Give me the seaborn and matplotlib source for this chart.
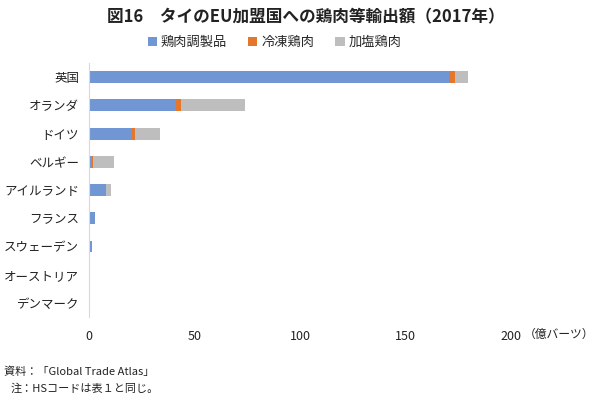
import matplotlib
matplotlib.use("Agg")
import matplotlib.pyplot as plt
import seaborn as sns
import pandas as pd
import numpy as np
from matplotlib.patches import Patch

countries = ["英国", "オランダ", "ドイツ", "ベルギー", "アイルランド", "フランス", "スウェーデン", "オーストリア", "デンマーク"]
prepared = [170.6, 41.4, 20.5, 1.3, 7.9, 2.8, 1.6, 0.0, 0.0]   # 鶏肉調製品
frozen = [2.8, 2.2, 1.3, 0.6, 0.2, 0.0, 0.0, 0.0, 0.0]        # 冷凍鶏肉
salted = [6.0, 30.2, 11.8, 10.0, 2.5, 0.0, 0.0, 0.0, 0.0]      # 加塩鶏肉
series_names = ["鶏肉調製品", "冷凍鶏肉", "加塩鶏肉"]
colors = ["#7096D4", "#E3772B", "#BEBEBE"]
xticks = [0, 50, 100, 150, 200]

sns.set_theme(style="white")
plt.rcParams["font.family"] = ["Noto Sans CJK JP", "DejaVu Sans"]

df = pd.DataFrame({"country": countries, "p": prepared, "f": frozen, "s": salted})
df["c1"] = df["p"]
df["c2"] = df["p"] + df["f"]
df["c3"] = df["p"] + df["f"] + df["s"]

fig = plt.figure(figsize=(5.97, 3.98), dpi=100)
ax = fig.add_axes([0.149, 0.2035, 0.707, 0.638])

for col, c in [("c3", colors[2]), ("c2", colors[1]), ("c1", colors[0])]:
    sns.barplot(data=df, x=col, y="country", order=countries, color=c,
                width=0.42, ax=ax, saturation=1, edgecolor="none", linewidth=0)

ax.set_xlim(0, 200)
ax.set_xticks(xticks)
ax.set_xticklabels([str(t) for t in xticks], fontsize=9, color="#222222")
ax.tick_params(axis="x", length=0, pad=9)
ax.tick_params(axis="y", length=0, pad=7, labelsize=9, labelcolor="#222222")
ax.set_xlabel("")
ax.set_ylabel("")
for s in ["top", "right", "bottom"]:
    ax.spines[s].set_visible(False)
ax.spines["left"].set_color("#D9D9D9")
ax.spines["left"].set_linewidth(0.8)

fig.text(0.513, 0.957, "図16　タイのEU加盟国への鶏肉等輸出額（2017年）",
         ha="center", va="center", fontsize=12, fontweight="bold", color="#222222")

handles = [Patch(facecolor=c, edgecolor="none") for c in colors]
fig.legend(handles, series_names, loc="center", bbox_to_anchor=(0.46, 0.893), ncol=3,
           frameon=False, fontsize=9.5, handlelength=0.7, handleheight=0.7,
           handletextpad=0.3, columnspacing=1.6)

fig.text(0.877, 0.16, "（億バーツ）", ha="left", va="center", fontsize=8.5, color="#222222")
fig.text(0.006, 0.066, "資料：「Global Trade Atlas」", ha="left", va="center", fontsize=8, color="#222222")
fig.text(0.018, 0.025, "注：HSコードは表１と同じ。", ha="left", va="center", fontsize=8, color="#222222")

fig.savefig("out.png", dpi=100)
